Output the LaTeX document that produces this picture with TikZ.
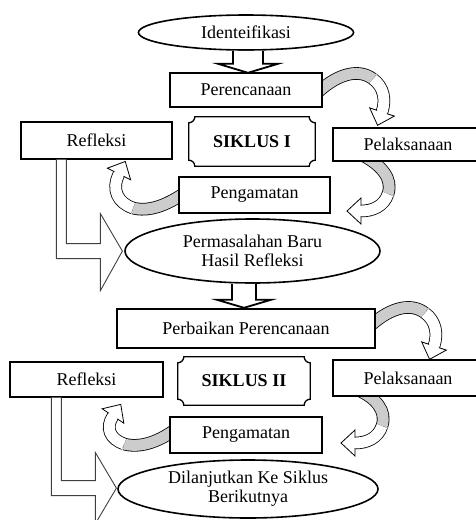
\documentclass[tikz,border=0pt]{standalone}
\usepackage{fontspec}
\setmainfont{Liberation Serif}
\usetikzlibrary{shapes.geometric,calc,backgrounds}
\tikzset{
  box/.style={draw, fill=white, line width=1.2pt, inner sep=0pt, font=\fontsize{18}{19}\selectfont},
  oval/.style={ellipse, draw, fill=white, line width=1.6pt, inner sep=0pt, align=center, font=\fontsize{18}{19}\selectfont},
  plaquebox/.style={inner sep=0pt, font=\fontsize{18}{19}\selectfont\bfseries},
  hollow/.style={draw=black!75, fill=white, line width=0.9pt},
  downarrow/.style={draw, fill=white, line width=1.8pt},
  band/.style={double distance=11pt, line width=0.8pt}
}
\newcommand{\bendarrow}[7]{%
  \draw [band, double=gray!40] (#1) .. controls (#2) and (#3) .. (#4);
  \draw [band, double=white] (#4) .. controls (#5) and (#6) .. (#7);
  \draw [fill=white, line width=0.8pt] ($(#7)!13pt!90:(#6)$) -- ($(#7)!-14pt!(#6)$) -- ($(#7)!13pt!-90:(#6)$) -- cycle;
  \draw [white, line width=10pt] ($(#7)!1pt!(#6)$) -- ($(#7)!-1pt!(#6)$);
}
\newcommand{\plaque}[1]{%
  \draw [line width=1.3pt] ($(#1.north west)+(6,0)$) -- ($(#1.north east)+(-6,0)$)
    arc [start angle=180, end angle=270, radius=6pt] -- ($(#1.south east)+(0,-6)$)
    arc [start angle=90, end angle=180, radius=6pt] -- ($(#1.south west)+(6,0)$)
    arc [start angle=0, end angle=90, radius=6pt] -- ($(#1.north west)+(0,6)$)
    arc [start angle=270, end angle=360, radius=6pt] -- cycle;
}
\begin{document}
\begin{tikzpicture}[x=1pt, y=-1pt]
\path [use as bounding box] (0,0) rectangle (476,520);
\node (ident) at (246,32.5) [oval, minimum width=215pt, minimum height=35pt] {Identeifikasi};
\node (pr1) at (246,90) [box, minimum width=152pt, minimum height=34pt] {Perencanaan};
\node (s1) at (252,141.5) [plaquebox, minimum width=126pt, minimum height=49pt] {SIKLUS I};
\node (rf1) at (96.5,140.5) [box, minimum width=151pt, minimum height=37pt] {Refleksi};
\node (pl1) at (408,144.5) [box, minimum width=150pt, minimum height=33pt] {Pelaksanaan};
\node (pg1) at (254.5,195) [box, minimum width=151pt, minimum height=36pt] {Pengamatan};
\node (el1) at (252.5,251) [oval, minimum width=255pt, minimum height=64pt] {Permasalahan Baru\\Hasil Refleksi};
\node (pr2) at (246,328.5) [box, minimum width=258pt, minimum height=39pt] {Perbaikan Perencanaan};
\node (s2) at (244,381) [plaquebox, minimum width=132pt, minimum height=48pt] {SIKLUS II};
\node (rf2) at (86.5,379.5) [box, minimum width=153pt, minimum height=35pt] {Refleksi};
\node (pl2) at (408,378) [box, minimum width=150pt, minimum height=36pt] {Pelaksanaan};
\node (pg2) at (246,435) [box, minimum width=152pt, minimum height=36pt] {Pengamatan};
\node (el2) at (248,489) [oval, minimum width=260pt, minimum height=58pt] {Dilanjutkan Ke Siklus\\Berikutnya};
\plaque{s1}
\plaque{s2}
\draw [downarrow] ($(ident.south)+(-13,0)$) --++ (0,13) --++ (-15,0) --++ (30,9) --++ (30,-9) --++ (-15,0) --++ (0,-13);
\draw [downarrow] ($(el1.south)+(-20.5,0)$) --++ (0,16) --++ (-15,0) --++ (27,8) --++ (27,-8) --++ (-15,0) --++ (0,-16);
\draw [hollow] ($(rf1.south west)+(36,0)$) --++ (0,99) --++ (44,0) --++ (0,32) --++ (22,-39.5) --++ (-22,-37.5) --++ (0,30) --++ (-34,0) --++ (0,-84);
\draw [hollow] ($(rf2.south west)+(42,0)$) --++ (0,98) --++ (44,0) --++ (0,28) --++ (21,-35.5) --++ (-21,-35.5) --++ (0,28) --++ (-34,0) --++ (0,-83);
\begin{scope}[on background layer]
\bendarrow{318,92}{340,72}{360,69}{373,79}{384,87}{386,100}{382,112}
\bendarrow{370,326}{392,306}{412,303}{425,313}{436,321}{438,334}{434,346}
\bendarrow{364,156}{382,166}{393,179}{388,194}{384,206}{373,211}{361,211}
\bendarrow{358,390}{376,398}{387,411}{382,426}{378,438}{367,443}{355,443}
\bendarrow{186,192}{166,206}{148,212}{133,208}{118,203}{111,190}{119,174}
\bendarrow{176,429}{157,443}{139,448}{124,444}{110,439}{105,428}{113,416}
\end{scope}
\end{tikzpicture}
\end{document}
